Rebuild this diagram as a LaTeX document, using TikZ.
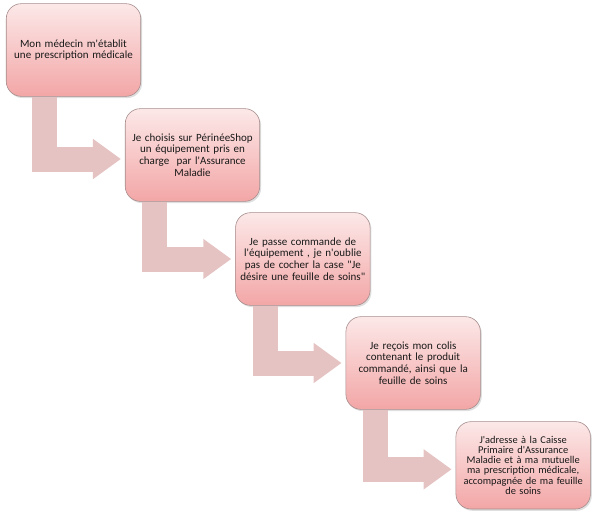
\documentclass[tikz,border=0pt]{standalone}
\usepackage{fontspec}
\newfontfamily\boxfont{Carlito}
\usepackage{tikz}
\usetikzlibrary{arrows.meta,positioning,shadows}

\definecolor{boxtop}{RGB}{252,232,232}
\definecolor{boxbottom}{RGB}{243,166,166}
\definecolor{boxline}{RGB}{165,140,140}
\definecolor{flowpink}{RGB}{230,195,195}

\begin{document}
\begin{tikzpicture}[node distance=3.12cm and 3.31cm, on grid,
    stepbox/.style={draw=boxline, line width=0.5pt, rounded corners=0.45cm,
        top color=boxtop, bottom color=boxbottom,
        drop shadow={shadow xshift=1.2pt, shadow yshift=-1.5pt, opacity=0.25},
        minimum width=4cm, minimum height=2.78cm, text width=3.8cm,
        align=center, text=black!90, font=\boxfont\fontsize{9.4}{10}\selectfont},
    flow/.style={draw=flowpink, line width=0.75cm,
        -{Triangle[length=0.84cm,width=1.15cm]}}]
    \useasboundingbox (0,0) rectangle (18,-15.69);

    % Nodes {b1, b2, b3, b4, b5}
    \node [stepbox]  (b1) at (2.205,-1.5)  {Mon médecin m'établit\\une prescription médicale};
    \node [stepbox]  (b2) [below right=3.15cm and 3.57cm of b1]
        {Je choisis sur PérinéeShop\\un équipement pris en\\charge~ par l'Assurance\\Maladie};
    \node [stepbox]  (b3) [below right=of b2]
        {Je passe commande de\\l'équipement , je n'oublie\\pas de cocher la case "Je\\désire une feuille de soins"};
    \node [stepbox]  (b4) [below right=of b3]
        {Je reçois mon colis\\contenant le produit\\commandé, ainsi que la\\feuille de soins};
    \node [stepbox, minimum width=3.93cm, minimum height=2.62cm,
        font=\boxfont\fontsize{8.9}{8.6}\selectfont]
                     (b5) [below right=3.07cm and 3.3cm of b4]
        {J'adresse à la Caisse\\Primaire d'Assurance\\Maladie et à ma mutuelle\\ma prescription médicale,\\accompagnée de ma feuille\\de soins};

    % Paths
    \draw [flow] ([xshift=1.15cm]b1.south west) |- ([xshift=-0.12cm,yshift=-0.12cm]b2.west);
    \draw [flow] ([xshift=0.9cm]b2.south west)  |- ([xshift=-0.12cm]b3.west);
    \draw [flow] ([xshift=0.9cm]b3.south west)  |- ([xshift=-0.12cm]b4.west);
    \draw [flow] ([xshift=0.9cm]b4.south west)  |- ([xshift=-0.12cm,yshift=-0.12cm]b5.west);
\end{tikzpicture}
\end{document}
